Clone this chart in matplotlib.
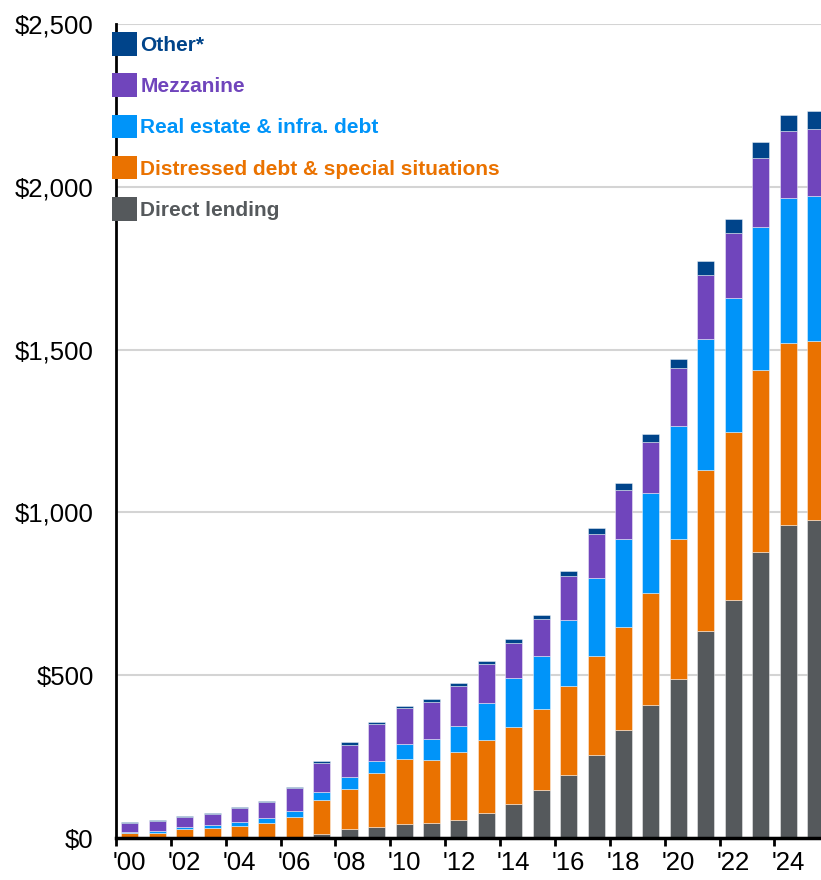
"""
    Private credit AUM by strategy, stacked bars
"""

import numpy as np
import matplotlib
matplotlib.use('Agg')
import matplotlib.pyplot as plt
from matplotlib.patches import Patch
from matplotlib.ticker import FuncFormatter, FixedLocator

years = list(range(2000, 2026))
tick_labels = ["'" + str(y)[2:] for y in years]

direct_lending = [0, 0, 0, 0, 0, 0, 0, 11, 27, 35, 44, 45, 56, 76, 104, 147, 192, 254, 331, 409,
                  487, 637, 731, 878, 960, 978]
distressed = [16, 16, 28, 32, 38, 47, 65, 106, 124, 164, 198, 194, 208, 226, 238, 250, 276, 305,
              318, 342, 431, 494, 515, 560, 559, 548]
real_estate = [2, 5, 5, 8, 11, 15, 18, 23, 36, 38, 46, 66, 80, 113, 149, 161, 201, 241, 269, 309,
               347, 401, 414, 437, 446, 445]
mezzanine = [28, 31, 31, 33, 42, 48, 71, 90, 100, 112, 112, 113, 124, 120, 109, 114, 136, 134, 150,
             155, 178, 197, 197, 212, 206, 205]
other = [3, 3, 3, 4, 5, 4, 4, 6, 8, 7, 6, 10, 8, 10, 10, 14, 16, 19, 22, 26, 29, 42, 43, 50, 51, 56]

series = [
    ('Direct lending', direct_lending, '#55595c'),
    ('Distressed debt & special situations', distressed, '#ea7200'),
    ('Real estate & infra. debt', real_estate, '#0094f9'),
    ('Mezzanine', mezzanine, '#7045bc'),
    ('Other*', other, '#00448a'),
]

plt.rcParams['font.family'] = ['Liberation Sans', 'DejaVu Sans']

fig = plt.figure(figsize=(8.21, 8.8), dpi=100)
ax = fig.add_axes([116 / 821, 42 / 880, 1 - 116 / 821, (838 - 24) / 880])

x = np.arange(len(years))
bottom = np.zeros(len(years))
for name, vals, color in series:
    ax.bar(x, vals, width=0.62, bottom=bottom, color=color,
           edgecolor=(1, 1, 1, 0.5), linewidth=0.6, zorder=3)
    bottom += np.array(vals)

ax.set_ylim(0, 2500)
ax.set_xlim(-0.5, 25.2)
ax.set_yticks(np.arange(0, 2501, 500))
ax.yaxis.set_major_formatter(FuncFormatter(lambda v, p: '${:,.0f}'.format(v)))
ax.tick_params(axis='y', length=0, pad=16, labelsize=18.5)
ax.grid(axis='y', color='#d4d4d4', linewidth=1.5, zorder=0)

ax.set_xticks(x[::2])
ax.set_xticklabels(tick_labels[::2])
ax.tick_params(axis='x', which='major', length=0, pad=9, labelsize=18.5)
ax.xaxis.set_minor_locator(FixedLocator(np.arange(-0.5, 24, 2)))
ax.tick_params(axis='x', which='minor', length=6, width=2, color='black')

for side in ['top', 'right']:
    ax.spines[side].set_visible(False)
ax.spines['left'].set_linewidth(2)
ax.spines['bottom'].set_linewidth(2.5)
ax.spines['bottom'].set_zorder(5)

handles = [Patch(facecolor=c, edgecolor='none') for _, _, c in series][::-1]
labels = [n for n, _, _ in series][::-1]
leg = ax.legend(handles, labels, loc='upper left', bbox_to_anchor=(-0.032, 1.013), frameon=False,
                prop={'weight': 'bold', 'size': 15}, handlelength=1.2, handleheight=1.35,
                handletextpad=0.15, labelspacing=0.86, labelcolor=[c for _, _, c in series][::-1])

fig.savefig('out.png', dpi=100)
